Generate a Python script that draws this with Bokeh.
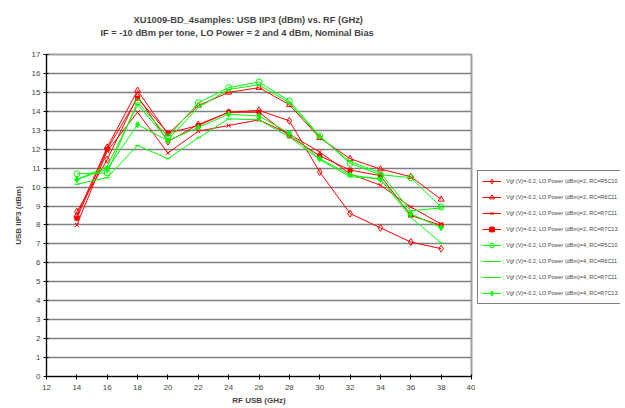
from bokeh.plotting import figure
from bokeh.layouts import row
from bokeh.models import Legend, LegendItem, Title, FixedTicker, Range1d
from bokeh.embed import file_html
from bokeh.resources import INLINE

rf = [14, 16, 18, 20, 22, 24, 26, 28, 30, 32, 34, 36, 38]

lo2_r5c10 = [8.7, 11.45, 14.8, 12.4, 13.3, 13.95, 14.05, 13.5, 10.8, 8.6, 7.85, 7.1, 6.75]
lo2_r6c11 = [8.5, 12.1, 15.1, 12.8, 14.3, 15.0, 15.25, 14.35, 12.6, 11.5, 10.95, 10.55, 9.35]
lo2_r7c11 = [8.0, 11.9, 13.95, 11.8, 12.95, 13.25, 13.55, 12.8, 11.85, 10.7, 10.1, 8.95, 8.05]
lo2_r7c13 = [8.35, 12.0, 14.7, 12.85, 13.25, 13.95, 13.95, 12.7, 11.65, 10.9, 10.6, 8.5, 7.98]
lo4_r5c10 = [10.7, 10.75, 14.5, 12.65, 14.45, 15.25, 15.55, 14.55, 12.7, 11.25, 10.65, 10.5, 8.95]
lo4_r6c11 = [10.4, 11.1, 14.35, 12.5, 14.2, 15.15, 15.4, 14.45, 12.65, 11.35, 10.75, 8.75, 8.9]
lo4_r7c11 = [10.15, 10.5, 12.2, 11.5, 12.6, 13.6, 13.55, 12.65, 11.45, 10.55, 10.45, 8.4, 7.05]
lo4_r7c13 = [10.4, 10.95, 13.3, 12.45, 13.15, 13.85, 13.75, 12.85, 11.5, 10.65, 10.4, 8.6, 7.85]

labels = [
    ", Vgf (V)=-0.2, LO Power (dBm)=2, RC=R5C10",
    ", Vgf (V)=-0.2, LO Power (dBm)=2, RC=R6C11",
    ", Vgf (V)=-0.2, LO Power (dBm)=2, RC=R7C11",
    ", Vgf (V)=-0.2, LO Power (dBm)=2, RC=R7C13",
    ", Vgf (V)=-0.2, LO Power (dBm)=4, RC=R5C10",
    ", Vgf (V)=-0.2, LO Power (dBm)=4, RC=R6C11",
    ", Vgf (V)=-0.2, LO Power (dBm)=4, RC=R7C11",
    ", Vgf (V)=-0.2, LO Power (dBm)=4, RC=R7C13",
]
series = [lo2_r5c10, lo2_r6c11, lo2_r7c11, lo2_r7c13, lo4_r5c10, lo4_r6c11, lo4_r7c11, lo4_r7c13]
colors = ["#FF0000"] * 4 + ["#00FF00"] * 4
markers = ["diamond", "triangle", "x", "square", "circle", "dash", "dash", "diamond"]
fills = [False, False, False, True, False, True, True, True]
sizes = [7, 6, 6, 4, 6, 5, 5, 6]

x_ticks = list(range(12, 41, 2))
y_ticks = list(range(0, 18))

H = 408
p = figure(width=475, height=H, output_backend="svg", toolbar_location=None,
           x_range=Range1d(12, 40), y_range=Range1d(0, 17),
           min_border_left=46, min_border_right=4, min_border_top=54, min_border_bottom=H - 376)
p.title = None

font = "Liberation Sans"
spacer = Title(text=" ", text_font=font, text_font_size="13px", standoff=0)
t2 = Title(text="IF = -10 dBm per tone, LO Power = 2 and 4 dBm, Nominal Bias", align="left",
           offset=54, text_font=font, text_font_size="9.3px", text_font_style="bold", standoff=0)
t1 = Title(text="XU1009-BD_4samples: USB IIP3 (dBm) vs. RF (GHz)", align="left",
           offset=87, text_font=font, text_font_size="9.3px", text_font_style="bold", standoff=1)
p.add_layout(spacer, "above")
p.add_layout(t2, "above")
p.add_layout(t1, "above")

# legend panel to the right of the plot area; its renderers sit outside its visible range
lg = figure(width=145, height=H, output_backend="svg", toolbar_location=None,
            x_range=Range1d(100, 101), y_range=Range1d(100, 101),
            x_axis_type=None, y_axis_type=None,
            min_border_left=0, min_border_right=0, min_border_top=0, min_border_bottom=0)
lg.title = None
lg.outline_line_color = None
lg.xgrid.grid_line_color = None
lg.ygrid.grid_line_color = None

items = []
for ys, c, m, f, s, lab in zip(series, colors, markers, fills, sizes, labels):
    p.line(rf, ys, line_color=c, line_width=1)
    p.scatter(rf, ys, marker=m, size=s, line_color=c, fill_color=c if f else None, line_width=1)
    l1 = lg.line(rf, ys, line_color=c, line_width=1)
    l2 = lg.scatter(rf, ys, marker=m, size=s, line_color=c, fill_color=c if f else None, line_width=1)
    items.append(LegendItem(label=lab, renderers=[l1, l2]))

legend = Legend(items=items, location=(2, H - 299 - 37), border_line_color="black", border_line_width=1,
                label_text_font=font, label_text_font_size="5.5px", glyph_width=19, glyph_height=12,
                label_height=12, spacing=4, padding=4, margin=0, label_standoff=2,
                background_fill_color="white")
lg.add_layout(legend, "center")

p.xgrid.grid_line_color = None
p.ygrid.grid_line_color = "#808080"
p.ygrid.grid_line_width = 1.5
p.ygrid.ticker = FixedTicker(ticks=y_ticks)
p.outline_line_color = "#a0a0a0"
p.outline_line_width = 2

p.xaxis.ticker = FixedTicker(ticks=x_ticks)
p.yaxis.ticker = FixedTicker(ticks=y_ticks)
for ax in (p.xaxis[0], p.yaxis[0]):
    ax.axis_line_color = "black"
    ax.major_tick_line_color = "black"
    ax.minor_tick_line_color = None
    ax.major_tick_in = 2
    ax.major_tick_out = 3
    ax.major_label_text_font = font
    ax.major_label_text_font_size = "8px"
    ax.axis_label_text_font = font
    ax.axis_label_text_font_size = "8px"
    ax.axis_label_text_font_style = "bold"
    ax.major_label_standoff = 3
    ax.axis_label_standoff = 4
p.xaxis.major_label_standoff = 5
p.xaxis.axis_label_standoff = 3
p.xaxis.axis_label = "RF USB (GHz)"
p.yaxis.axis_label = "USB IIP3 (dBm)"
p.yaxis.axis_label_standoff = 6

layout = row(p, lg, spacing=0)
open("out.html", "w").write(file_html(layout, INLINE))
